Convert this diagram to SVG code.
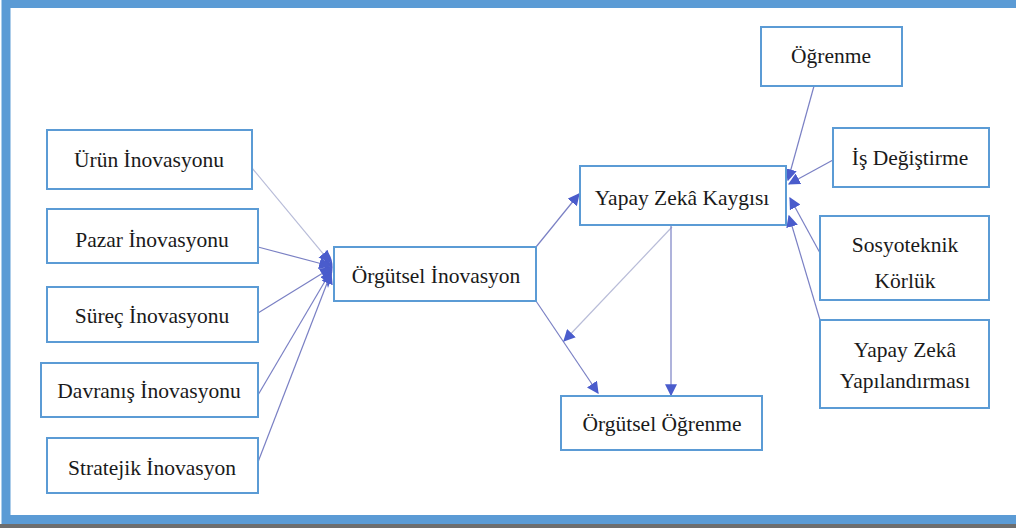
<svg xmlns="http://www.w3.org/2000/svg" width="1016" height="528" viewBox="0 0 1016 528">
  <style>
    .box { fill: #ffffff; stroke: #5b9bd5; stroke-width: 2; }
    .lbl { font-family: "Liberation Serif", "DejaVu Serif", serif; font-size: 21.5px; fill: #1a1a1a; text-anchor: middle; }
    .con { fill: none; stroke: #7a80c4; stroke-width: 1.2; }
    .con2 { fill: none; stroke: #b8bcd8; stroke-width: 1.2; }
  </style>
  <defs>
    <marker id="arr" viewBox="0 0 10 10" refX="9" refY="5" markerWidth="12" markerHeight="12" markerUnits="userSpaceOnUse" orient="auto">
      <path d="M0,0 L10,5 L0,10 Z" fill="#4a5ccc"/>
    </marker>
  </defs>
  <rect x="0" y="0" width="1016" height="528" fill="#ffffff"/>
  <!-- frame -->
  <rect x="0" y="524" width="1016" height="4" fill="#6e6e6e"/>
  <rect x="6" y="3.5" width="1030" height="516" fill="none" stroke="#5b9bd5" stroke-width="9"/>

  <g id="connectors">
    <path d="M326,250 Q338,262 328,288 Q322,268 326,250 Z" fill="#4a5ccc"/>
    <line class="con2" x1="252" y1="168" x2="330" y2="262" marker-end="url(#arr)"/>
    <line class="con" x1="258" y1="247" x2="330" y2="266" marker-end="url(#arr)"/>
    <line class="con" x1="258" y1="313" x2="331" y2="268" marker-end="url(#arr)"/>
    <line class="con" x1="258" y1="395" x2="331" y2="271" marker-end="url(#arr)"/>
    <line class="con" x1="258" y1="462" x2="331" y2="273" marker-end="url(#arr)"/>
    <line class="con" x1="536" y1="247" x2="579" y2="194" marker-end="url(#arr)"/>
    <line class="con" x1="536" y1="301" x2="598" y2="393" marker-end="url(#arr)"/>
    <line class="con2" x1="672" y1="227" x2="564" y2="341" stroke-width="3" marker-end="url(#arr)"/>
    <line class="con" x1="671" y1="225" x2="671" y2="395" marker-end="url(#arr)"/>
    <line class="con" x1="814" y1="86" x2="788" y2="180" marker-end="url(#arr)"/>
    <line class="con" x1="833" y1="160" x2="789" y2="184" marker-end="url(#arr)"/>
    <line class="con" x1="820" y1="253" x2="790" y2="198" marker-end="url(#arr)"/>
    <line class="con" x1="820" y1="320" x2="789" y2="216" marker-end="url(#arr)"/>
  </g>

  <g id="urun"><rect class="box" x="47" y="130" width="205" height="59"/><text class="lbl" x="149" y="167">Ürün İnovasyonu</text></g>
  <g id="pazar"><rect class="box" x="47" y="209" width="211" height="54"/><text class="lbl" x="152" y="247">Pazar İnovasyonu</text></g>
  <g id="surec"><rect class="box" x="47" y="287" width="211" height="55"/><text class="lbl" x="152" y="323">Süreç İnovasyonu</text></g>
  <g id="davranis"><rect class="box" x="41" y="363" width="217" height="54"/><text class="lbl" x="149" y="398">Davranış İnovasyonu</text></g>
  <g id="stratejik"><rect class="box" x="47" y="438" width="211" height="55"/><text class="lbl" x="152" y="475">Stratejik İnovasyon</text></g>
  <g id="orgutsel-inovasyon"><rect class="box" x="334" y="247" width="202" height="54"/><text class="lbl" x="436" y="283">Örgütsel İnovasyon</text></g>
  <g id="yapay-zeka-kaygisi"><rect class="box" x="580" y="166" width="206" height="59"/><text class="lbl" x="682" y="205">Yapay Zekâ Kaygısı</text></g>
  <g id="orgutsel-ogrenme"><rect class="box" x="561" y="396" width="201" height="54"/><text class="lbl" x="662" y="431">Örgütsel Öğrenme</text></g>
  <g id="ogrenme"><rect class="box" x="761" y="27" width="141" height="59"/><text class="lbl" x="831" y="63">Öğrenme</text></g>
  <g id="is-degistirme"><rect class="box" x="833" y="128" width="156" height="59"/><text class="lbl" x="910" y="165">İş Değiştirme</text></g>
  <g id="sosyoteknik"><rect class="box" x="820" y="216" width="169" height="84"/><text class="lbl" x="905" y="252">Sosyoteknik</text><text class="lbl" x="905" y="288">Körlük</text></g>
  <g id="yz-yapilandirmasi"><rect class="box" x="820" y="320" width="169" height="88"/><text class="lbl" x="905" y="357">Yapay Zekâ</text><text class="lbl" x="905" y="388">Yapılandırması</text></g>
</svg>
